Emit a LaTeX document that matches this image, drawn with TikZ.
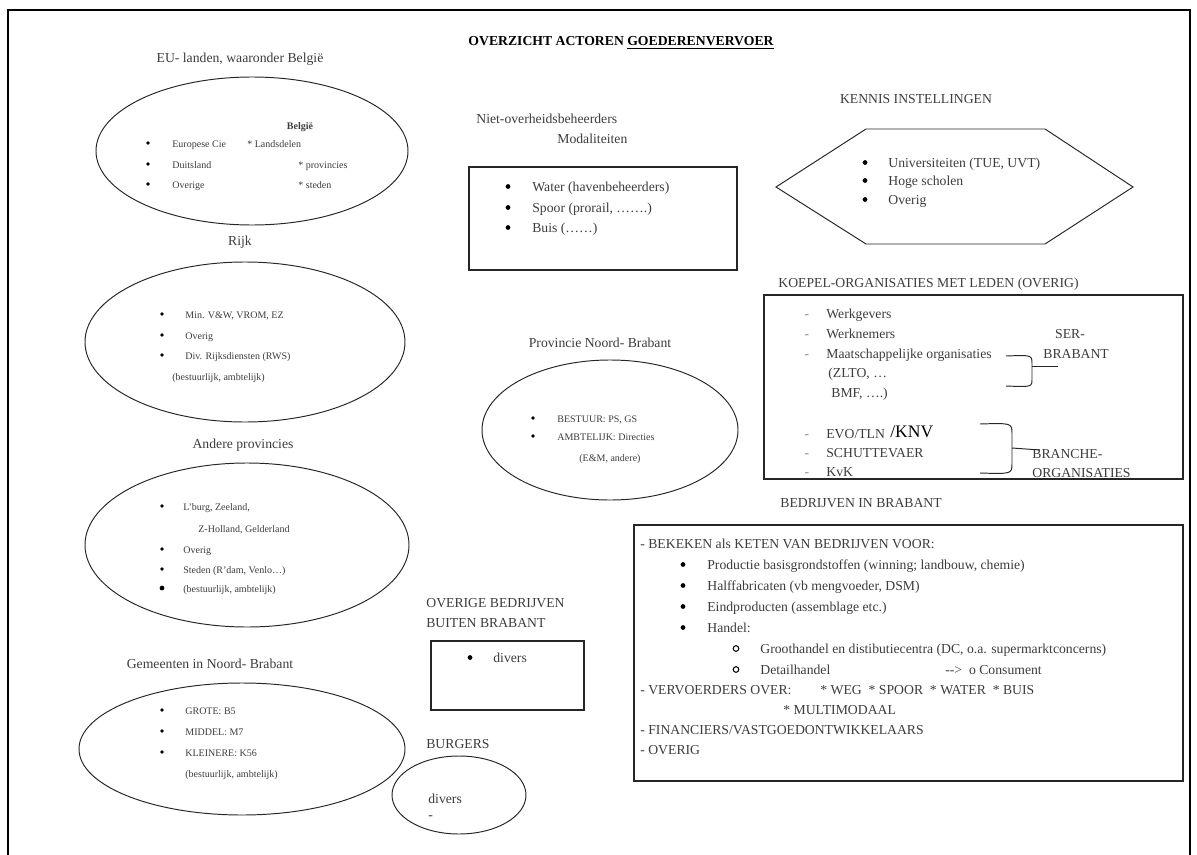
\documentclass[tikz,border=0pt]{standalone}
\usepackage{fontspec}
\setmainfont{Liberation Serif}
\usetikzlibrary{positioning}

\definecolor{txtgray}{RGB}{60,60,60}

\tikzset{
  lbl/.style={inner sep=0pt, text=txtgray, font=\fontsize{7.8}{9}\selectfont,
    text height=1.6ex, text depth=.3ex},
  smalltxt/.style={inner sep=0pt, text=txtgray, font=\fontsize{5.7}{7}\selectfont,
    text height=1.6ex, text depth=.3ex},
  bdot/.style={circle, fill=black, inner sep=0pt, minimum size=2.7pt},
  sdot/.style={circle, fill=black, inner sep=0pt, minimum size=2.1pt},
  thinline/.style={draw=black!85, line width=0.55pt},
  boxline/.style={draw=black!85, line width=0.9pt},
}

\begin{document}
\begin{tikzpicture}[x=0.02cm, y=-0.02cm]

\useasboundingbox (0,0) rectangle (1197,855);

% Frame
\draw[line width=1.1pt] (8,855) -- (8,10) -- (1190,10) -- (1190,855);

% Title
\node[lbl, text=black, font=\fontsize{7.8}{9}\selectfont\bfseries] (title) at (621,40)
  {OVERZICHT ACTOREN \underline{GOEDERENVERVOER}};

% ---------------- Left column ----------------
% EU
\node[lbl] (euLbl) at (240,57) {EU- landen, waaronder België};
\draw[thinline] (252,151) ellipse [x radius=156, y radius=74];
\node[smalltxt, font=\fontsize{5.7}{7}\selectfont\bfseries] (belgie) at (300,124) {België};
\foreach \y/\t [count=\i] in {142/Europese Cie, 163/Duitsland, 183/Overige}{
  \node[sdot] (euB\i) at (148,\y+1) {};
  \node[smalltxt, anchor=west] (euT\i) at (172,\y) {\t};
}
\node[smalltxt, anchor=west] (landsdelen) at (247,142) {* Landsdelen};
\node[smalltxt, anchor=west] (provincies) at (298,163) {* provincies};
\node[smalltxt, anchor=west] (steden) at (298,183) {* steden};

% Rijk
\node[lbl] (rijkLbl) at (240,240) {Rijk};
\draw[thinline] (245,342) ellipse [x radius=160, y radius=80];
\foreach \y/\t [count=\i] in {313/{Min. V\&W, VROM, EZ}, 334/Overig, 354/{Div. Rijksdiensten (RWS)}}{
  \node[sdot] (rijkB\i) at (162,\y+1) {};
  \node[smalltxt, anchor=west] (rijkT\i) at (185,\y) {\t};
}
\node[smalltxt, anchor=west] (rijkNote) at (172,375) {(bestuurlijk, ambtelijk)};

% Andere provincies
\node[lbl] (andLbl) at (243,443) {Andere provincies};
\draw[thinline] (247,545) ellipse [x radius=162, y radius=82];
\foreach \y/\t [count=\i] in {505/{L'burg, Zeeland,}, 548/Overig, 568/{Steden (R'dam, Venlo…)}}{
  \node[sdot] (andB\i) at (162,\y+1) {};
  \node[smalltxt, anchor=west] (andT\i) at (183,\y) {\t};
}
\node[bdot] (andB4) at (162,588) {};
\node[smalltxt, anchor=west] (andT4) at (183,587) {(bestuurlijk, ambtelijk)};
\node[smalltxt, anchor=west] (andHolland) at (198,527) {Z-Holland, Gelderland};

% Gemeenten
\node[lbl] (gemLbl) at (210,663) {Gemeenten in Noord- Brabant};
\draw[thinline] (242,749) ellipse [x radius=163, y radius=66];
\foreach \y/\t [count=\i] in {709/{GROTE: B5}, 730/{MIDDEL: M7}, 751/{KLEINERE: K56}}{
  \node[sdot] (gemB\i) at (162,\y+1) {};
  \node[smalltxt, anchor=west] (gemT\i) at (185,\y) {\t};
}
\node[smalltxt, anchor=west] (gemNote) at (185,772) {(bestuurlijk, ambtelijk)};

% ---------------- Middle column ----------------
% Niet-overheidsbeheerders
\node[lbl, anchor=west] (nietLbl) at (476,118) {Niet-overheidsbeheerders};
\node[lbl, anchor=west] (modLbl) at (557,138) {Modaliteiten};
\draw[boxline] (469,167) rectangle (737,270);
\foreach \y/\t [count=\i] in {186/{Water (havenbeheerders)}, 207/{Spoor (prorail, …….)}, 227/{Buis (……)}}{
  \node[bdot] (modB\i) at (508,\y+0.5) {};
  \node[lbl, anchor=west] (modT\i) at (532,\y) {\t};
}

% Provincie Noord-Brabant
\node[lbl] (provLbl) at (600,342) {Provincie Noord- Brabant};
\draw[thinline] (610,430) ellipse [x radius=128, y radius=70];
\foreach \y/\t [count=\i] in {417/{BESTUUR: PS, GS}, 435/{AMBTELIJK: Directies}}{
  \node[sdot] (provB\i) at (533,\y+1) {};
  \node[smalltxt, anchor=west] (provT\i) at (557,\y) {\t};
}
\node[smalltxt, anchor=west] (provNote) at (579,456) {(E\&M, andere)};

% Overige bedrijven
\node[lbl, anchor=west] (ovLbl1) at (426,602) {OVERIGE BEDRIJVEN};
\node[lbl, anchor=west] (ovLbl2) at (426,622) {BUITEN BRABANT};
\draw[boxline] (431,641) rectangle (584,710);
\node[bdot] (ovB) at (470,657.5) {};
\node[lbl, anchor=west] (ovT) at (493,657) {divers};

% Burgers
\node[lbl, anchor=west] (burgLbl) at (426,743) {BURGERS};
\draw[thinline] (459,795) ellipse [x radius=67, y radius=39];
\node[lbl, anchor=west] (burgT) at (428,798) {divers};
\node[lbl, anchor=west] (burgD) at (428,814) {-};

% ---------------- Right column ----------------
% Kennis instellingen
\node[lbl] (kennisLbl) at (916,98) {KENNIS INSTELLINGEN};
\draw[thinline] (776,187) -- (866,129) -- (1045,129) -- (1133,187)
  -- (1045,244) -- (866,244) -- cycle;
\foreach \y/\t [count=\i] in {162/{Universiteiten (TUE, UVT)}, 180/Hoge scholen, 199/Overig}{
  \node[bdot] (kenB\i) at (865,\y+0.5) {};
  \node[lbl, anchor=west] (kenT\i) at (888,\y) {\t};
}

% Koepel-organisaties
\node[lbl, anchor=west] (koepLbl) at (778,282) {KOEPEL-ORGANISATIES MET LEDEN (OVERIG)};
\draw[boxline] (764,295) rectangle (1183,479);
\foreach \y/\t [count=\i] in {313/Werkgevers, 333/Werknemers, 353/Maatschappelijke organisaties,
    433/{EVO/TLN}, 452/SCHUTTEVAER, 471/KvK}{
  \node[lbl, text=black!45] (koepD\i) at (807,\y) {-};
  \node[lbl, anchor=west] (koepT\i) at (826,\y) {\t};
}
\node[lbl, anchor=west, text=black, font=\fontsize{10}{12}\selectfont] (knv) at (890,432) {/KNV};
\node[lbl, anchor=west] (zlto) at (828,372) {(ZLTO, …};
\node[lbl, anchor=west] (bmf) at (831,392) {BMF, ….)};
\node[lbl] (serLbl1) at (1070,333) {SER-};
\node[lbl, anchor=west] (serLbl2) at (1043,353) {BRABANT};
\node[lbl, anchor=west] (brLbl1) at (1032,453) {BRANCHE-};
\node[lbl, anchor=west] (brLbl2) at (1032,472) {ORGANISATIES};
% braces
\draw[thinline] (1006,356) .. controls (1032,355) .. (1032,364) -- (1032,379)
  .. controls (1032,387) .. (1006,386);
\draw[thinline] (1032,366) -- (1058,366);
\draw[thinline] (980,424) .. controls (1012,423) .. (1012,434) -- (1012,463)
  .. controls (1012,474) .. (980,473);
\draw[thinline] (1012,448) -- (1040,450);

% Bedrijven in Brabant
\node[lbl, anchor=west] (bedrLbl) at (780,502) {BEDRIJVEN IN BRABANT};
\draw[boxline] (634,525) rectangle (1183,781);
\node[lbl, anchor=west] (keten) at (640,543) {- BEKEKEN als KETEN VAN BEDRIJVEN VOOR:};
\foreach \y/\t [count=\i] in {564/{Productie basisgrondstoffen (winning; landbouw, chemie)},
    585/{Halffabricaten (vb mengvoeder, DSM)}, 606/{Eindproducten (assemblage etc.)}, 627/Handel:}{
  \node[bdot] (ketB\i) at (683,\y+0.5) {};
  \node[lbl, anchor=west] (ketT\i) at (707,\y) {\t};
}
\foreach \y/\t [count=\i] in {648/{Groothandel en distibutiecentra (DC, o.a. supermarktconcerns)},
    669/Detailhandel}{
  \node[circle, draw=black, line width=0.6pt, inner sep=0pt, minimum size=3.2pt] (handO\i) at (736,\y+0.5) {};
  \node[lbl, anchor=west] (handT\i) at (760,\y) {\t};
}
\node[lbl, anchor=west] (consument) at (945,669) {-{}->~ o Consument};
\node[lbl, anchor=west] (vervoer) at (640,689) {- VERVOERDERS OVER:};
\node[lbl, anchor=west] (modes) at (820,689) {* WEG ~* SPOOR ~* WATER ~* BUIS};
\node[lbl, anchor=west] (multi) at (783,709) {* MULTIMODAAL};
\node[lbl, anchor=west] (financ) at (640,729) {- FINANCIERS/VASTGOEDONTWIKKELAARS};
\node[lbl, anchor=west] (overig) at (640,749) {- OVERIG};

\end{tikzpicture}
\end{document}
